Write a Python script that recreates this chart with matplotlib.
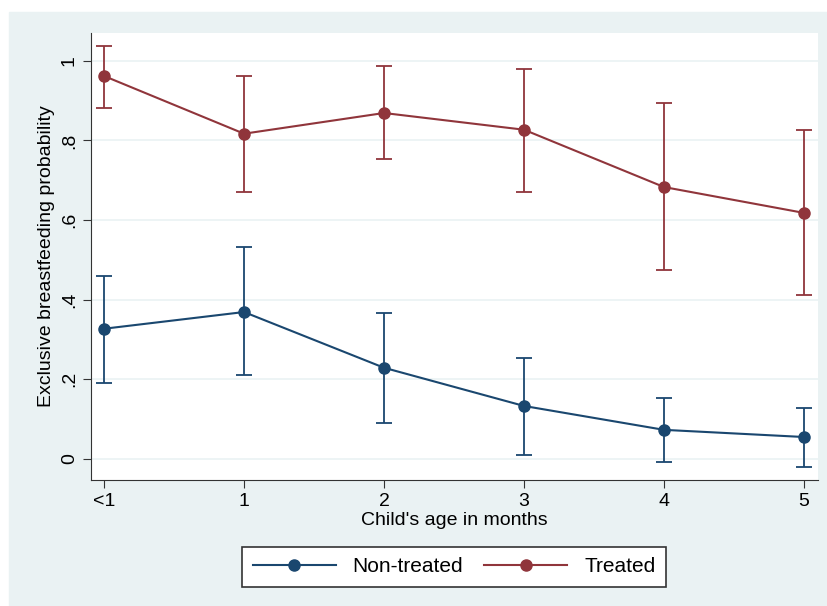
import matplotlib.pyplot as plt
from matplotlib.patches import Rectangle

plt.rcParams['font.family'] = ['Liberation Sans', 'DejaVu Sans']

ages = [0, 1, 2, 3, 4, 5]
age_labels = ['<1', '1', '2', '3', '4', '5']

treated = [0.962, 0.817, 0.869, 0.827, 0.683, 0.618]
treated_hi = [1.038, 0.962, 0.987, 0.980, 0.894, 0.827]
treated_lo = [0.882, 0.671, 0.754, 0.671, 0.475, 0.412]

nontreated = [0.327, 0.369, 0.229, 0.133, 0.073, 0.055]
nontreated_hi = [0.460, 0.533, 0.367, 0.254, 0.153, 0.128]
nontreated_lo = [0.191, 0.211, 0.090, 0.010, -0.008, -0.020]

blue = '#1a476f'
red = '#90353b'
bg = '#eaf2f3'

fig = plt.figure(figsize=(8.28, 6.06), dpi=100)
fig.patches.append(Rectangle((9 / 828, 0), 819 / 828, (606 - 12) / 606,
                             transform=fig.transFigure, color=bg, zorder=-5))
ax = fig.add_axes([91 / 828, 126 / 606, 727 / 828, 447 / 606])
ax.set_facecolor('white')

for y, hi, lo, c, lab in [(nontreated, nontreated_hi, nontreated_lo, blue, 'Non-treated'),
                          (treated, treated_hi, treated_lo, red, 'Treated')]:
    ax.errorbar(ages, y, yerr=[[a - b for a, b in zip(y, lo)], [b - a for a, b in zip(y, hi)]],
                fmt='none', ecolor=c, elinewidth=1.3, capsize=6, capthick=1.3, zorder=3)
    ax.plot(ages, y, '-o', color=c, lw=1.5, ms=8, label=lab, zorder=4)

ax.set_xlim(-0.093, 5.1)
ax.set_ylim(-0.053, 1.070)
ax.set_xticks(ages)
ax.set_xticklabels(age_labels)
ax.set_yticks([0, 0.2, 0.4, 0.6, 0.8, 1])
ax.set_yticklabels(['0', '.2', '.4', '.6', '.8', '1'], rotation=90, va='center')
ax.grid(axis='y', color='#eaf2f3', lw=1.2)
ax.set_axisbelow(True)
for s in ['top', 'right']:
    ax.spines[s].set_visible(False)
for s in ['left', 'bottom']:
    ax.spines[s].set_color('#333333')
ax.tick_params(labelsize=14, length=6, color='#333333')
ax.set_xlabel("Child's age in months", fontsize=14, labelpad=1)
ax.set_ylabel('Exclusive breastfeeding probability', fontsize=14)

leg = fig.legend(loc='center', bbox_to_anchor=(454 / 828, 1 - 567 / 606), ncol=2,
                 fontsize=15, fancybox=False, edgecolor='#333333', framealpha=1,
                 handlelength=4.0, columnspacing=1.0, borderpad=0.5)
leg.get_frame().set_linewidth(1.2)

fig.savefig('out.png', dpi=100)
